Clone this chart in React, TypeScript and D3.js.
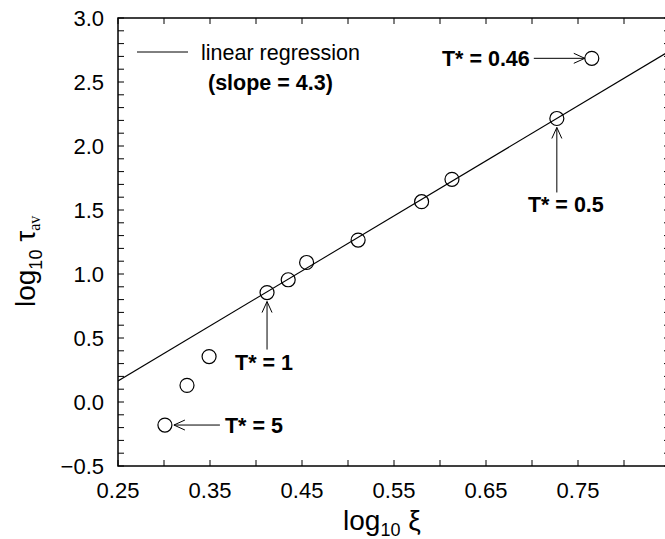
import React from "react";
import * as d3 from "d3";

const logXi = [0.301, 0.325, 0.349, 0.412, 0.435, 0.455, 0.511, 0.58, 0.613, 0.727, 0.765];
const logTau = [-0.18, 0.13, 0.355, 0.855, 0.955, 1.09, 1.265, 1.565, 1.74, 2.215, 2.685];
const slope = 4.3;
const intercept = -0.911;
const xTickLabels = ["0.25", "0.35", "0.45", "0.55", "0.65", "0.75"];
const yTickLabels = ["3.0", "2.5", "2.0", "1.5", "1.0", "0.5", "0.0", "\u22120.5"];
const annotations = [
  { label: "T* = 5", index: 0, dir: "left" },
  { label: "T* = 1", index: 3, dir: "below" },
  { label: "T* = 0.5", index: 9, dir: "below" },
  { label: "T* = 0.46", index: 10, dir: "right" },
];

const W = 665;
const H = 539;
const FONT = "'Liberation Sans', Arial, Helvetica, sans-serif";

export default function App() {
  const x = d3.scaleLinear().domain([0.25, 0.85]).range([118, 670]);
  const y = d3.scaleLinear().domain([-0.5, 3.0]).range([466, 18]);
  const [x0, x1] = x.range();
  const [yb, yt] = y.range();
  const xMinor = d3.range(0, 13).map((i) => 0.25 + i * 0.05);
  const yMinor = d3.range(0, 36).map((i) => -0.5 + i * 0.1);
  const tl = 6;
  const r = 7;
  const line = d3.line<number>().x((d) => x(d)).y((d) => y(slope * d + intercept));
  const regX = [0.25, 0.85];

  const arrowHead = (tx: number, ty: number, angle: number) => {
    const len = 11;
    const hw = 5;
    const ca = Math.cos(angle);
    const sa = Math.sin(angle);
    const bx = tx - len * ca;
    const by = ty - len * sa;
    return `M${bx - hw * sa},${by + hw * ca}L${tx},${ty}L${bx + hw * sa},${by - hw * ca}`;
  };

  return (
    <svg
      width={W}
      height={H}
      style={{ position: "absolute", left: 0, top: 0, background: "#fff" }}
      fontFamily={FONT}
    >
      <defs>
        <clipPath id="plotclip">
          <rect x={x0} y={yt} width={x1 - x0} height={yb - yt} />
        </clipPath>
      </defs>
      <rect x={x0} y={yt} width={x1 - x0} height={yb - yt} fill="none" stroke="#000" strokeWidth={1.5} />
      {xMinor.map((v, i) => (
        <g key={"xt" + i}>
          <line x1={x(v)} x2={x(v)} y1={yb} y2={yb - tl} stroke="#000" strokeWidth={1} />
          <line x1={x(v)} x2={x(v)} y1={yt} y2={yt + tl} stroke="#000" strokeWidth={1} />
        </g>
      ))}
      {yMinor.map((v, i) => (
        <g key={"yt" + i}>
          <line x1={x0} x2={x0 + tl} y1={y(v)} y2={y(v)} stroke="#000" strokeWidth={1} />
          <line x1={x1} x2={x1 - tl} y1={y(v)} y2={y(v)} stroke="#000" strokeWidth={1} />
        </g>
      ))}
      {xTickLabels.map((t) => (
        <text key={"xl" + t} x={x(+t)} y={498} fontSize={22} textAnchor="middle">
          {t}
        </text>
      ))}
      {yTickLabels.map((t) => (
        <text key={"yl" + t} x={104} y={y(+t.replace("\u2212", "-")) + 8} fontSize={22} textAnchor="end">
          {t}
        </text>
      ))}
      <text x={343} y={530} fontSize={28}>
        log
        <tspan fontSize={18} dy={6}>10</tspan>
        <tspan fontSize={28} dy={-6}> ξ</tspan>
      </text>
      <text transform="translate(35,307) rotate(-90)" fontSize={28}>
        log
        <tspan fontSize={18} dy={7}>10</tspan>
        <tspan fontSize={28} dy={-7}> τ</tspan>
        <tspan fontSize={16} dy={5} fontFamily="'Liberation Serif', 'Times New Roman', serif">av</tspan>
      </text>
      <path d={line(regX) || ""} fill="none" stroke="#000" strokeWidth={1.1} clipPath="url(#plotclip)" />
      {logXi.map((v, i) => (
        <circle key={"p" + i} cx={x(v)} cy={y(logTau[i])} r={r} fill="none" stroke="#000" strokeWidth={1.2} />
      ))}
      <line x1={137} x2={188} y1={52} y2={52} stroke="#000" strokeWidth={1} />
      <text x={201} y={60} fontSize={21.5}>linear regression</text>
      <text x={208} y={90} fontSize={21.5} fontWeight="bold">(slope = 4.3)</text>
      {annotations.map((a) => {
        const px = x(logXi[a.index]);
        const py = y(logTau[a.index]);
        if (a.dir === "left") {
          const tip = px + r + 2;
          const start = tip + 46;
          return (
            <g key={a.label}>
              <line x1={start} x2={tip} y1={py} y2={py} stroke="#000" strokeWidth={1} />
              <path d={arrowHead(tip, py, Math.PI)} fill="none" stroke="#000" strokeWidth={1} />
              <text x={start + 5} y={py + 8} fontSize={21.5} fontWeight="bold">{a.label}</text>
            </g>
          );
        }
        if (a.dir === "right") {
          const tip = px - r;
          const start = tip - 51;
          return (
            <g key={a.label}>
              <line x1={start} x2={tip} y1={py} y2={py} stroke="#000" strokeWidth={1} />
              <path d={arrowHead(tip, py, 0)} fill="none" stroke="#000" strokeWidth={1} />
              <text x={start - 4} y={py + 8} fontSize={21.5} fontWeight="bold" textAnchor="end">{a.label}</text>
            </g>
          );
        }
        const tip = py + r + 2;
        const end = tip + (a.index === 3 ? 48 : 65);
        return (
          <g key={a.label}>
            <line x1={px} x2={px} y1={end} y2={tip} stroke="#000" strokeWidth={1} />
            <path d={arrowHead(px, tip, -Math.PI / 2)} fill="none" stroke="#000" strokeWidth={1} />
            <text x={px + (a.index === 3 ? -3 : 9)} y={end + 20} fontSize={21.5} fontWeight="bold" textAnchor="middle">{a.label}</text>
          </g>
        );
      })}
    </svg>
  );
}
